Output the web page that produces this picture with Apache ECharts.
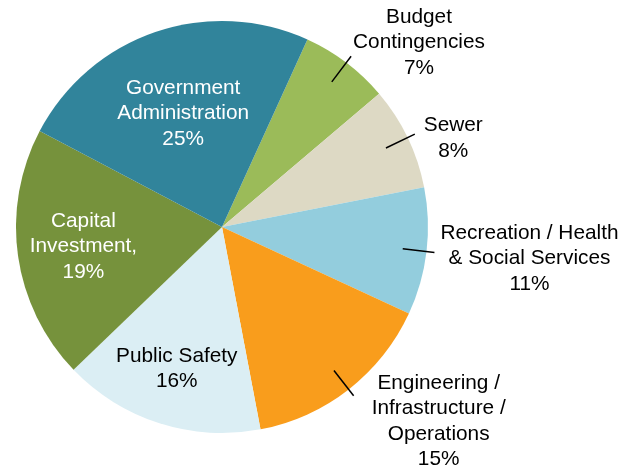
<!DOCTYPE html>
<html>
<head>
<meta charset="utf-8">
<script src="https://cdn.jsdelivr.net/npm/echarts@6/dist/echarts.min.js"></script>
<style>
html,body{margin:0;padding:0;background:#ffffff;}
#chart{width:636px;height:467px;}
</style>
</head>
<body>
<div id="chart"></div>
<script>
// ---- data ----
const categories = [
  'Budget\nContingencies',
  'Sewer',
  'Recreation / Health\n& Social Services',
  'Engineering /\nInfrastructure /\nOperations',
  'Public Safety',
  'Capital\nInvestment,',
  'Government\nAdministration'
];
const values = [7.0, 8.1, 10.0, 15.1, 15.8, 19.9, 24.1];
const percentLabels = ['7%', '8%', '11%', '15%', '16%', '19%', '25%'];

// ---- styles ----
const colors = ['#9BBB59', '#DDD9C4', '#93CDDD', '#F99D1C', '#DBEEF4', '#76923C', '#31849B'];
const CENTER = [222, 227];
const RADIUS = 206;
const START = 65.5;
const FONT_FAMILY = '"Liberation Sans", Arial, sans-serif';
const RICH = {
  k: { align: 'center', color: '#000000', fontFamily: FONT_FAMILY, fontSize: 20.8, lineHeight: 25.5, textBorderWidth: 0 },
  w: { align: 'center', color: '#ffffff', fontFamily: FONT_FAMILY, fontSize: 20.8, lineHeight: 25.5, textBorderWidth: 0 }
};
// outside labels: leader line from 182px to 214px radius
const outsideStyle = {
  0: { distance: 2, padding: [0, 0, 28, 0] },
  1: { distance: 9, padding: [8, 0, 0, 0] },
  2: { distance: 6, padding: [12, 0, 0, 0] },
  3: { distance: 18, padding: [51, 0, 0, 0] }
};
const insideStyle = {
  4: { r: 146, key: 'k' },
  5: { r: 137, key: 'w' },
  6: { r: 117, key: 'w' }
};

function labelText(i, key) {
  const lines = (categories[i] + '\n' + percentLabels[i]).split('\n');
  return lines.map(function (l) { return '{' + key + '|' + l + '}'; }).join('\n');
}

const baseOverlay = {
  type: 'pie',
  z: 10,
  center: CENTER,
  startAngle: START,
  clockwise: true,
  silent: true,
  avoidLabelOverlap: false,
  emphasis: { disabled: true },
  itemStyle: { color: 'transparent', borderWidth: 0 },
  label: { show: false, rich: RICH },
  labelLine: { show: false }
};

const series = [];
series.push({
  type: 'pie',
  z: 1,
  center: CENTER,
  radius: RADIUS,
  startAngle: START,
  clockwise: true,
  silent: true,
  emphasis: { disabled: true },
  label: { show: false },
  labelLine: { show: false },
  itemStyle: { borderWidth: 0 },
  data: values.map(function (v, i) {
    return { value: v, name: categories[i], itemStyle: { color: colors[i], borderWidth: 0 } };
  })
});

series.push(Object.assign({}, baseOverlay, {
  radius: 182,
  data: values.map(function (v, i) {
    const item = { value: v, name: categories[i] };
    const o = outsideStyle[i];
    if (o) {
      item.label = {
        show: true,
        position: 'outside',
        formatter: labelText(i, 'k'),
        rich: RICH,
        distanceToLabelLine: o.distance,
        padding: o.padding,
        textBorderWidth: 0
      };
      item.labelLine = {
        show: true,
        length: 32,
        length2: 0,
        smooth: false,
        lineStyle: { color: '#000000', width: 1.5 }
      };
    }
    return item;
  })
}));

Object.keys(insideStyle).forEach(function (k) {
  const idx = +k;
  const o = insideStyle[idx];
  series.push(Object.assign({}, baseOverlay, {
    radius: 2 * o.r,
    data: values.map(function (v, i) {
      const item = { value: v, name: categories[i] };
      if (i === idx) {
        item.label = {
          show: true,
          position: 'inside',
          formatter: labelText(i, o.key),
          rich: RICH,
          textBorderWidth: 0
        };
      }
      return item;
    })
  }));
});

const chart = echarts.init(document.getElementById('chart'), null, { renderer: 'canvas' });
chart.setOption({
  animation: false,
  backgroundColor: '#ffffff',
  tooltip: { show: false },
  series: series
});
</script>
</body>
</html>
